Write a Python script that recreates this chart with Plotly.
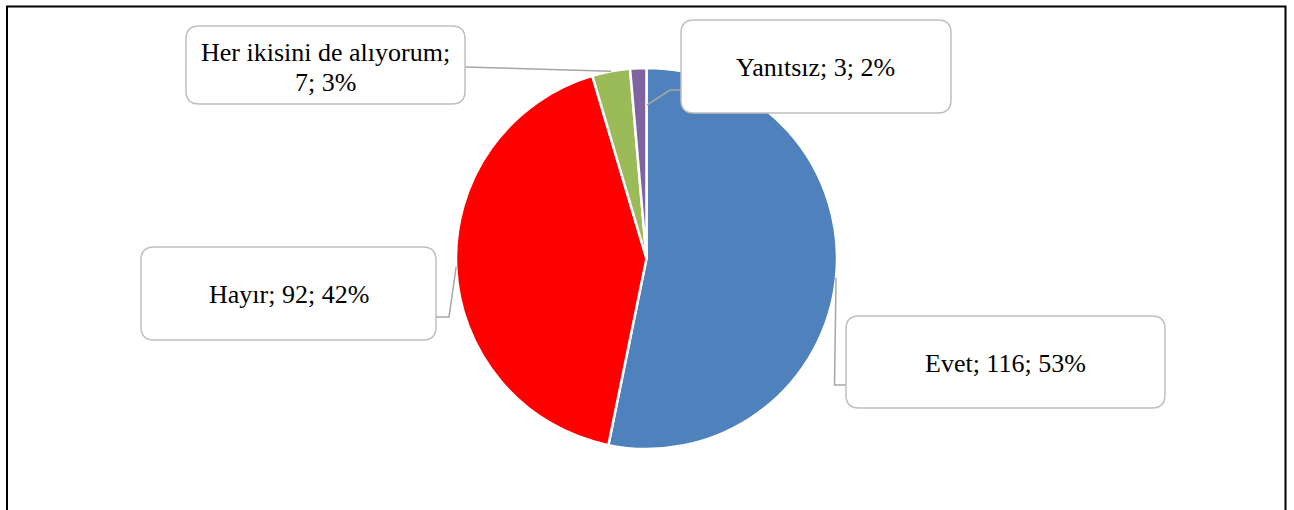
import math
import plotly.graph_objects as go

# ---- data ----
labels = ["Evet", "Hayır", "Her ikisini de alıyorum", "Yanıtsız"]
values = [116, 92, 7, 3]
pct_labels = [53, 42, 3, 2]
colors = ["#4F81BD", "#FF0000", "#9BBB59", "#8064A2"]

W, H = 1294, 510
# pie geometry in pixels
CX, CY, R = 646.5, 258.5, 190.5


def px(x):
    return x / W


def py(y):
    return 1 - y / H


fig = go.Figure()
fig.add_trace(go.Pie(
    labels=labels, values=values, sort=False, direction="clockwise", rotation=0,
    marker=dict(colors=colors, line=dict(color="white", width=2.5)),
    textinfo="none", showlegend=False, hoverinfo="label+value+percent",
    domain=dict(x=[px(CX - R), px(CX + R)], y=[py(CY + R), py(CY - R)]),
))

# mid-angle anchor points on the rim, from the data
total = sum(values)
anchors = []
cum = 0
for v in values:
    mid = (cum + v / 2) / total * 2 * math.pi
    anchors.append((CX + R * math.sin(mid), CY - R * math.cos(mid)))
    cum += v

shapes = []
# outer frame (bottom cut off)
shapes.append(dict(type="path", xref="paper", yref="paper",
                   path=f"M {px(7)},{py(520)} L {px(7)},{py(6.5)} L {px(1285.5)},{py(6.5)} L {px(1285.5)},{py(520)}",
                   line=dict(color="black", width=2)))


def rrect(x0, y0, x1, y1, r=13):
    p = (f"M {px(x0 + r)},{py(y0)} L {px(x1 - r)},{py(y0)} Q {px(x1)},{py(y0)} {px(x1)},{py(y0 + r)} "
         f"L {px(x1)},{py(y1 - r)} Q {px(x1)},{py(y1)} {px(x1 - r)},{py(y1)} "
         f"L {px(x0 + r)},{py(y1)} Q {px(x0)},{py(y1)} {px(x0)},{py(y1 - r)} "
         f"L {px(x0)},{py(y0 + r)} Q {px(x0)},{py(y0)} {px(x0 + r)},{py(y0)} Z")
    return dict(type="path", xref="paper", yref="paper", path=p,
                line=dict(color="#BFBFBF", width=1.5), fillcolor="white", layer="above")


def poly(pts):
    p = "M " + " L ".join(f"{px(x)},{py(y)}" for x, y in pts)
    return dict(type="path", xref="paper", yref="paper", path=p,
                line=dict(color="#A6A6A6", width=1.5), layer="above")


# leader lines
ax, ay = anchors[0]
shapes.append(poly([(ax, ay), (ax - 1.5, 385), (846, 385)]))
ax, ay = anchors[1]
shapes.append(poly([(ax, ay), (449, 317), (436, 317)]))
ax, ay = anchors[2]
shapes.append(poly([(ax, ay), (465, 67)]))
shapes.append(poly([(647, 105), (670, 90), (681, 90)]))

# label boxes
boxes = [(846, 316, 1165, 408), (141, 247, 436, 340), (186, 26, 465, 104), (681, 20, 951, 113)]
for b in boxes:
    shapes.append(rrect(*b))

font = dict(family="Liberation Serif, Times New Roman, serif", size=26, color="black")
annotations = []


def txt(x, y, s):
    annotations.append(dict(x=px(x), y=py(y), xref="paper", yref="paper", text=s,
                            showarrow=False, xanchor="center", yanchor="middle", font=font))


t = [f"{l}; {v}; {p}%" for l, v, p in zip(labels, values, pct_labels)]
txt(1005.5, 363, t[0])
txt(288.5, 294, t[1])
txt(325.5, 52.5, f"{labels[2]};")
txt(325.5, 82.5, f"{values[2]}; {pct_labels[2]}%")
txt(816, 68, t[3])

fig.update_layout(width=W, height=H, margin=dict(l=0, r=0, t=0, b=0),
                  paper_bgcolor="white", plot_bgcolor="white",
                  shapes=shapes, annotations=annotations)
fig.write_html("out.html", config={"displayModeBar": False},
               post_script="document.body.style.margin='0';document.body.style.overflow='hidden';")
